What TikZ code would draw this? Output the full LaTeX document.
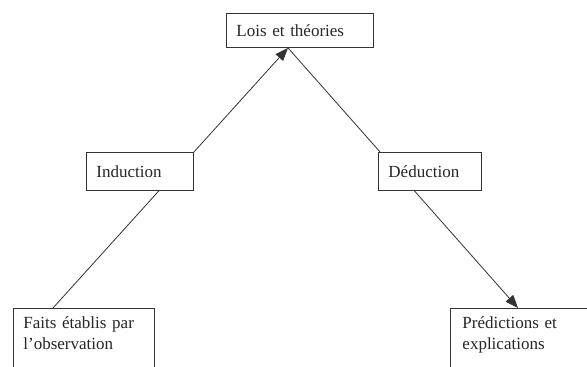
\documentclass[tikz,border=0pt]{standalone}
\usepackage{fontspec}
\setmainfont{Liberation Serif}
\usetikzlibrary{arrows.meta,calc}
\begin{document}
\begin{tikzpicture}[x=1pt,y=-1pt,
  box/.style={draw=black!80, line width=0.9pt, fill=white, anchor=north west,
    align=left, inner xsep=10pt, inner ysep=0pt, font=\fontsize{17}{21}\selectfont, text=black!85},
  conn/.style={draw=black!80, line width=0.8pt},
  tip/.style={-{Triangle[length=13pt,width=10pt]}}]
\useasboundingbox (0,0) rectangle (587,367);
\fill[white] (0,0) rectangle (587,367);
\node[box, minimum width=147pt, minimum height=34pt, text width=127pt] (lois) at (226,13) {Lois et théories};
\node[box, minimum width=141pt, text width=121pt, inner ysep=8pt, text depth=50pt] (faits) at (13,308) {Faits établis par\\l’observation};
\node[box, minimum width=150pt, text width=127pt, inner ysep=8pt, text depth=50pt, inner xsep=12pt] (pred) at (450,308) {Prédictions et\\explications};
\draw[conn, tip] ($(faits.north west)+(40,0)$) -- ($(lois.south west)+(62,0)$);
\draw[conn, tip] ($(lois.south west)+(62,0)$) -- ($(pred.north west)+(68,0)$);
\node[box, minimum width=107pt, minimum height=38pt, text width=87pt] (induc) at (86,152) {Induction};
\node[box, minimum width=103pt, minimum height=38pt, text width=83pt] (deduc) at (378,152) {Déduction};
\end{tikzpicture}
\end{document}
